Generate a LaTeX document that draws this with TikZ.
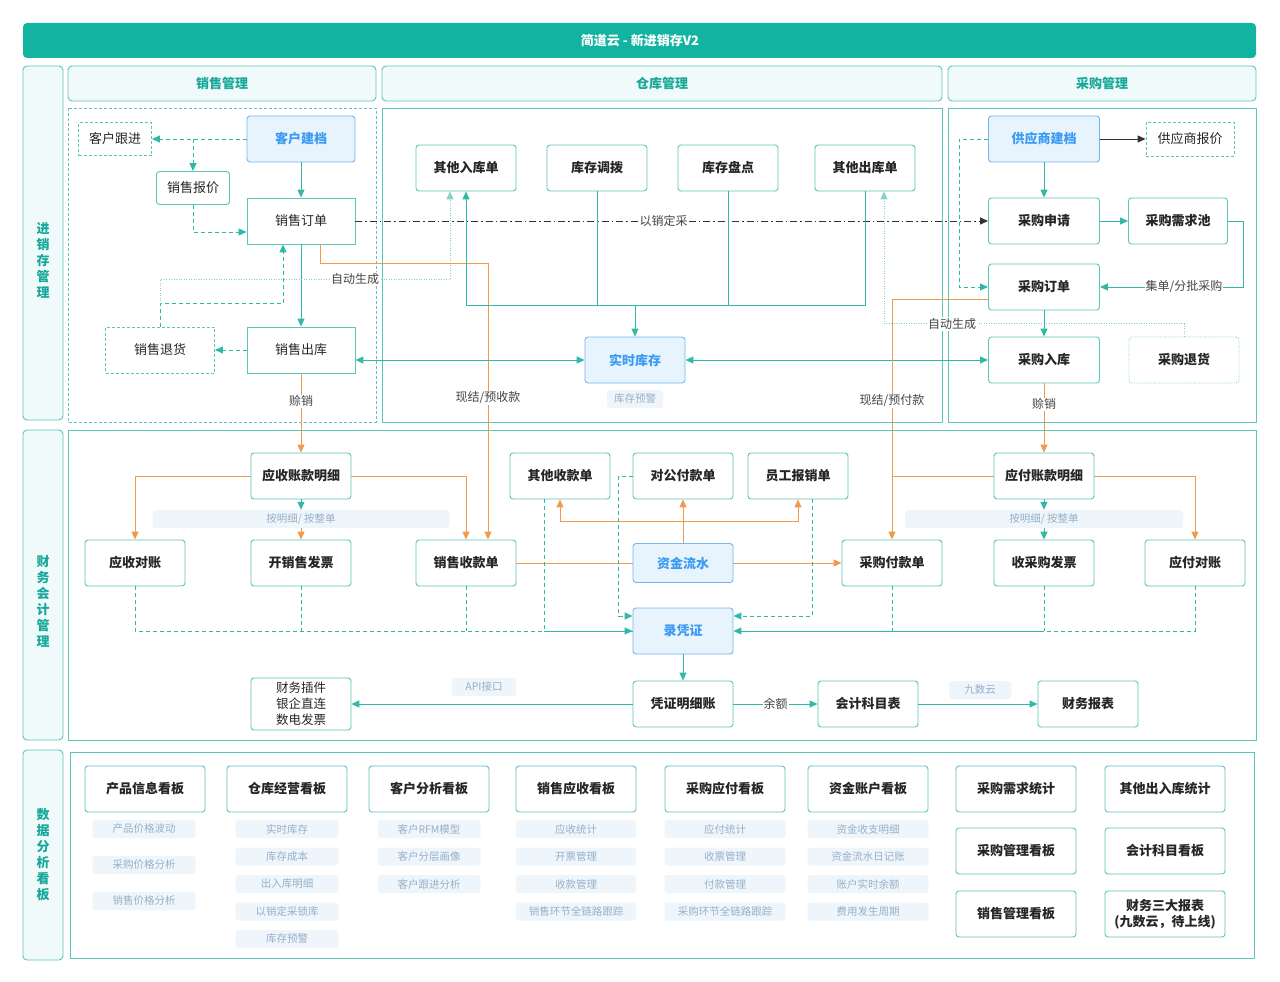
\documentclass[tikz,border=0pt]{standalone}
\usepackage{fontspec}
\setmainfont{Noto Sans CJK SC}
\usetikzlibrary{arrows.meta}

\definecolor{jdteal}{HTML}{12B3A1}
\definecolor{boxline}{HTML}{5BC6B8}
\definecolor{headfill}{HTML}{F1FAFB}
\definecolor{headtext}{HTML}{17A899}
\definecolor{linkteal}{HTML}{2FB9A6}
\definecolor{dotteal}{HTML}{86D2C8}
\definecolor{orangeln}{HTML}{F19A4B}
\definecolor{bluefill}{HTML}{E7F3FD}
\definecolor{blueline}{HTML}{74B5F2}
\definecolor{bluetext}{HTML}{3B9BF2}
\definecolor{tagfill}{HTML}{EEF5FB}
\definecolor{tagtext}{HTML}{97B0C7}
\definecolor{textdark}{HTML}{262626}
\definecolor{labelgray}{HTML}{444444}
\definecolor{dashdot}{HTML}{333333}

\begin{document}
\begin{tikzpicture}[x=1pt, y=-1pt,
  every node/.style={font=\fontsize{13}{16}\selectfont, text=textdark},
  box/.style={draw=boxline, line width=0.9pt, fill=white, rounded corners=3pt,
    minimum width=100pt, minimum height=46pt, inner sep=2pt,
    font=\fontsize{13}{16}\selectfont\bfseries},
  plainbox/.style={box, font=\fontsize{13}{16}\selectfont},
  sharpbox/.style={plainbox, sharp corners},
  dashbox/.style={sharpbox, dash pattern=on 3pt off 2pt},
  dotbox/.style={box, draw=dotteal, dash pattern=on 1pt off 1.5pt},
  bluebox/.style={box, draw=blueline, fill=bluefill, text=bluetext},
  headbox/.style={draw=boxline, line width=0.9pt, fill=headfill, rounded corners=4pt},
  headtxt/.style={text=headtext, font=\fontsize{13}{16}\selectfont\bfseries, align=center},
  frame/.style={draw=boxline, line width=0.9pt},
  tag/.style={fill=tagfill, rounded corners=3pt, inner sep=0pt, minimum height=18pt,
    text=tagtext, font=\fontsize{10.5}{12}\selectfont},
  lbl/.style={fill=white, inner sep=1pt, text=labelgray, font=\fontsize{12}{14}\selectfont},
  tip/.style={-{Triangle[length=8pt,width=7pt]}},
  line/.style={draw=linkteal, line width=1pt},
  arr/.style={line, tip},
  dashln/.style={line, dash pattern=on 4pt off 3pt},
  dasharr/.style={arr, dash pattern=on 4pt off 3pt},
  dotarr/.style={arr, draw=dotteal, dash pattern=on 1pt off 1.5pt},
  oln/.style={line, draw=orangeln},
  oarr/.style={arr, draw=orangeln},
  bothways/.style={line, {Triangle[length=8pt,width=7pt]}-{Triangle[length=8pt,width=7pt]}},
  blkarr/.style={draw=dashdot, line width=1pt, tip},
  ddarr/.style={blkarr, dash pattern=on 7pt off 3pt on 1.5pt off 3pt}]

  \useasboundingbox[fill=white] (0,0) rectangle (1280,982);

  % title bar and frames
  \fill[jdteal, rounded corners=4pt] (23,23) rectangle (1256,58);
  \node[text=white, font=\fontsize{13}{16}\selectfont\bfseries] (title) at (640,41) {简道云 - 新进销存V2};

  \draw[headbox] (23,66) rectangle (63,420);
  \draw[headbox] (23,430) rectangle (63,740);
  \draw[headbox] (23,750) rectangle (63,960);
  \node[headtxt] (side1) at (43,260) {进\\销\\存\\管\\理};
  \node[headtxt] (side2) at (43,601) {财\\务\\会\\计\\管\\理};
  \node[headtxt] (side3) at (43,855) {数\\据\\分\\析\\看\\板};

  \draw[headbox] (68,66) rectangle (376,101);
  \draw[headbox] (382,66) rectangle (942,101);
  \draw[headbox] (948,66) rectangle (1256,101);
  \node[headtxt] (hsale) at (222,84) {销售管理};
  \node[headtxt] (hware) at (662,84) {仓库管理};
  \node[headtxt] (hbuy) at (1102,84) {采购管理};

  \draw[frame, dash pattern=on 3pt off 2pt] (68,108) rectangle (376,422);
  \draw[frame] (382,108) rectangle (942,422);
  \draw[frame] (948,108) rectangle (1256,422);
  \draw[frame] (68,430) rectangle (1256,740);
  \draw[frame] (70,752) rectangle (1254,958);

  % sales
  \node[dashbox, minimum width=73pt, minimum height=33pt] (khgj) at (115,139) {客户跟进};
  \node[bluebox, minimum width=108pt] (khjd) at (301,139) {客户建档};
  \node[plainbox, minimum width=73pt, minimum height=33pt] (xsbj) at (193,188) {销售报价};
  \node[sharpbox, minimum width=108pt] (xsdd) at (301,221) {销售订单};
  \node[dashbox, minimum width=109pt] (xsth) at (160,350) {销售退货};
  \node[sharpbox, minimum width=108pt] (xsck) at (301,350) {销售出库};

  % warehouse
  \node[box] (qtrk) at (466,168) {其他入库单};
  \node[box] (kcdb) at (597,168) {库存调拨};
  \node[box] (kcpd) at (728,168) {库存盘点};
  \node[box] (qtck) at (865,168) {其他出库单};
  \node[bluebox] (sskc) at (635,360) {实时库存};
  \node[tag, minimum width=56pt] (kcyj) at (635,399) {库存预警};
  \coordinate (hub) at (635,305);

  % purchase
  \node[bluebox, minimum width=111pt] (gysjd) at (1044,139) {供应商建档};
  \node[dashbox, minimum width=88pt, minimum height=34pt] (gysbj) at (1190,139) {供应商报价};
  \node[box, minimum width=111pt] (cgsq) at (1044,221) {采购申请};
  \node[box, minimum width=99pt] (cgxqc) at (1178,221) {采购需求池};
  \node[box, minimum width=111pt] (cgdd) at (1044,287) {采购订单};
  \node[box, minimum width=111pt] (cgrk) at (1044,360) {采购入库};
  \node[dotbox, minimum width=110pt] (cgth) at (1184,360) {采购退货};

  % finance
  \node[box] (yszk) at (301,476) {应收账款明细};
  \node[box] (qtsk) at (560,476) {其他收款单};
  \node[box] (dgfk) at (683,476) {对公付款单};
  \node[box] (ygbx) at (798,476) {员工报销单};
  \node[box] (yfzk) at (1044,476) {应付账款明细};
  \node[tag, minimum width=297pt] (tagA) at (301,519) {按明细/ 按整单};
  \node[tag, minimum width=278pt] (tagB) at (1044,519) {按明细/ 按整单};
  \node[box] (ysdz) at (135,563) {应收对账};
  \node[box] (kxsfp) at (301,563) {开销售发票};
  \node[box] (xssk) at (466,563) {销售收款单};
  \node[bluebox, minimum height=39pt] (zjls) at (683,563) {资金流水};
  \node[box] (cgfk) at (892,563) {采购付款单};
  \node[box] (scgfp) at (1044,563) {收采购发票};
  \node[box] (yfdz) at (1195,563) {应付对账};
  \node[bluebox] (lpz) at (683,631) {录凭证};
  \node[box] (pzmx) at (683,704) {凭证明细账};
  \node[box] (kjkm) at (868,704) {会计科目表};
  \node[box] (cwbb) at (1088,704) {财务报表};
  \node[plainbox, minimum height=52pt, align=center, font=\fontsize{12.5}{16}\selectfont] (cwcj) at (301,704) {财务插件\\银企直连\\数电发票};
  \node[tag, minimum width=64pt] (api) at (484,687) {API接口};
  \node[tag, minimum width=62pt] (jsy) at (980,690) {九数云};
  \coordinate (fk) at (683,521);

  % sales links
  \draw[dasharr] (khjd.west) -- (khgj.east);
  \draw[dasharr] (khjd.west -| xsbj.north) -- (xsbj.north);
  \draw[dasharr] (xsbj.south) |- ([yshift=-11pt]xsdd.west);
  \draw[arr] (khjd) -- (xsdd);
  \draw[arr] (xsdd) -- (xsck);
  \draw[dasharr] (xsck.west) -- (xsth.east);
  \draw[dasharr] (xsth.north) -- ++(0,-23) -| ([xshift=-18pt]xsdd.south);
  \draw[dotarr] ([yshift=23pt]xsth.north) -- ++(0,-24) -| ([xshift=-16pt]qtrk.south);
  \node[lbl] (auto1) at (355,279) {自动生成};
  \draw[oarr] ([xshift=19pt]xsdd.south) -- ++(0,19) -| ([xshift=22pt]xssk.north);
  \node[lbl] (xjys) at (488,398) {现结/预收款};
  \draw[oarr] (xsck) -- (yszk) node[lbl, pos=0.35] {赊销};
  \draw[ddarr] (xsdd.east) -- (cgsq.west) node[lbl, pos=0.487] {以销定采};
  \draw[bothways] (sskc.west -| xsck.east) -- (sskc.west);

  % warehouse links
  \draw[line] (kcdb.south) |- (hub);
  \draw[line] (kcpd.south) |- (hub);
  \draw[line] (qtck.south) |- (hub);
  \draw[arr] (hub) -| (qtrk.south);
  \draw[arr] (hub) -- (sskc.north);
  \draw[bothways] (sskc.east) -- (sskc.east -| cgrk.west);
  \draw[dotarr] (cgth.north) -- ++(0,-13) -| ([xshift=19pt]qtck.south);
  \node[lbl] (auto2) at (952,324) {自动生成};

  % purchase links
  \draw[blkarr] (gysjd) -- (gysbj);
  \draw[arr] (gysjd) -- (cgsq);
  \draw[dasharr] (gysjd.west) -- ++(-29,0) |- (cgdd.west);
  \draw[arr] (cgsq) -- (cgxqc);
  \draw[arr] (cgxqc.east) -- ++(16,0) |- (cgdd.east);
  \node[lbl] (jdfp) at (1184,287) {集单/分批采购};
  \draw[arr] (cgdd) -- (cgrk);
  \draw[oarr] ([yshift=-12pt]cgdd.west) -| (cgfk.north);
  \node[lbl] (xjyf) at (892,401) {现结/预付款};
  \draw[oarr] (cgrk) -- (yfzk) node[lbl, pos=0.3] {赊销};

  % finance links
  \draw[oarr] (yszk.west) -| (ysdz.north);
  \draw[oarr] (yszk.east) -| (xssk.north);
  \draw[arr] (yszk) -- (tagA);
  \draw[oarr] (tagA) -- (kxsfp);
  \draw[arr] (yfzk) -- (tagB);
  \draw[arr] (tagB) -- (scgfp);
  \draw[oln] (yfzk.west) -- (yfzk.west -| cgfk.north);
  \draw[oarr] (yfzk.east) -| (yfdz.north);
  \draw[oln] (xssk) -- (zjls);
  \draw[oarr] (zjls) -- (cgfk);
  \draw[oarr] (zjls) -- (dgfk);
  \draw[oarr] (fk) -| (qtsk.south);
  \draw[oarr] (fk) -| (ygbx.south);

  \draw[dashln] (ysdz.south) |- (lpz.west);
  \draw[dashln] (kxsfp.south) -- (kxsfp.south |- lpz.west);
  \draw[dashln] (xssk.south) -- (xssk.south |- lpz.west);
  \draw[dashln] ([xshift=-16pt]qtsk.south) -- ([xshift=-16pt]qtsk.south |- lpz.west);
  \draw[arr] ([xshift=-16pt]qtsk.south |- lpz.west) -- (lpz.west);
  \draw[dasharr] (dgfk.west) -- ++(-14,0) |- ([yshift=15pt]lpz.west);
  \draw[dasharr] ([xshift=14pt]ygbx.south) |- ([yshift=15pt]lpz.east);
  \draw[dashln] (yfdz.south) |- (scgfp.south |- lpz.east);
  \draw[dashln] (cgfk.south) -- (cgfk.south |- lpz.east);
  \draw[dashln] (scgfp.south) -- (scgfp.south |- lpz.east);
  \draw[arr] (scgfp.south |- lpz.east) -- (lpz.east);
  \draw[arr] (lpz) -- (pzmx);
  \draw[arr] (pzmx) -- (cwcj);
  \draw[arr] (pzmx) -- (kjkm) node[lbl, midway] {余额};
  \draw[arr] (kjkm) -- (cwbb);

  % dashboards
  \node[box, minimum width=120pt] (b1) at (145,789) {产品信息看板};
  \node[box, minimum width=120pt] (b2) at (287,789) {仓库经营看板};
  \node[box, minimum width=120pt] (b3) at (429,789) {客户分析看板};
  \node[box, minimum width=120pt] (b4) at (576,789) {销售应收看板};
  \node[box, minimum width=120pt] (b5) at (725,789) {采购应付看板};
  \node[box, minimum width=120pt] (b6) at (868,789) {资金账户看板};
  \node[box, minimum width=120pt] (b7) at (1016,789) {采购需求统计};
  \node[box, minimum width=120pt] (b8) at (1165,789) {其他出入库统计};
  \node[box, minimum width=120pt] (b9) at (1016,851) {采购管理看板};
  \node[box, minimum width=120pt] (b10) at (1165,851) {会计科目看板};
  \node[box, minimum width=120pt] (b11) at (1016,914) {销售管理看板};
  \node[box, minimum width=120pt, align=center] (b12) at (1165,914) {财务三大报表\\(九数云，待上线)};

  \foreach \t [count=\i] in {产品价格波动,采购价格分析,销售价格分析}
    \node[tag, minimum width=103pt] (t1\i) at (144,{829+36*(\i-1)}) {\t};
  \foreach \t [count=\i] in {实时库存,库存成本,出入库明细,以销定采锁库,库存预警}
    \node[tag, minimum width=103pt] (t2\i) at (287,{829+27.5*(\i-1)}) {\t};
  \foreach \t [count=\i] in {客户RFM模型,客户分层画像,客户跟进分析}
    \node[tag, minimum width=103pt] (t3\i) at (429,{829+27.5*(\i-1)}) {\t};
  \foreach \t [count=\i] in {应收统计,开票管理,收款管理,销售环节全链路跟踪}
    \node[tag, minimum width=120pt] (t4\i) at (576,{829+27.5*(\i-1)}) {\t};
  \foreach \t [count=\i] in {应付统计,收票管理,付款管理,采购环节全链路跟踪}
    \node[tag, minimum width=121pt] (t5\i) at (725,{829+27.5*(\i-1)}) {\t};
  \foreach \t [count=\i] in {资金收支明细,资金流水日记账,账户实时余额,费用发生周期}
    \node[tag, minimum width=121pt] (t6\i) at (868,{829+27.5*(\i-1)}) {\t};
\end{tikzpicture}
\end{document}
